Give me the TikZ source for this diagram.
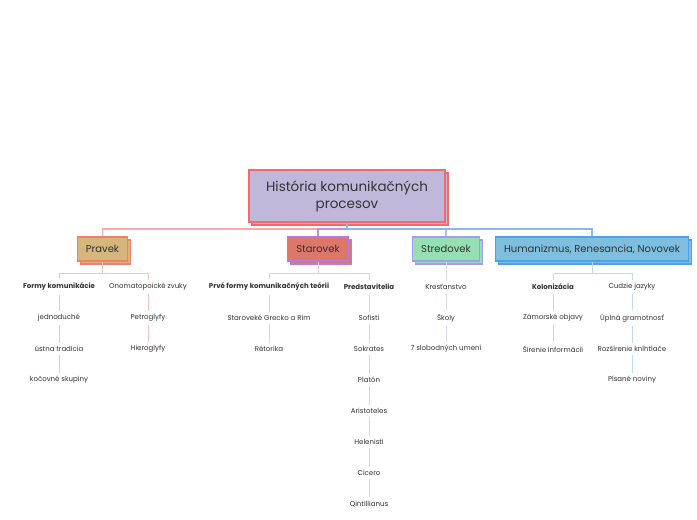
\documentclass[tikz,border=0pt]{standalone}
\usepackage{fontspec}
\setmainfont{Poppins}
\usetikzlibrary{shadows}
\definecolor{txt}{HTML}{333333}
\definecolor{rootfill}{HTML}{BFB8DA}
\definecolor{rootline}{HTML}{F26B6B}
\definecolor{pravekfill}{HTML}{D6B67B}
\definecolor{pravekline}{HTML}{F07F6B}
\definecolor{starovekfill}{HTML}{DC776A}
\definecolor{starovekline}{HTML}{B57BE3}
\definecolor{stredovekfill}{HTML}{95E0B2}
\definecolor{stredovekline}{HTML}{A49BF2}
\definecolor{humanizmusfill}{HTML}{7EBFDF}
\definecolor{humanizmusline}{HTML}{4FA0EB}
\definecolor{toPravek}{HTML}{F9A8A8}
\definecolor{toStarovek}{HTML}{C98CE6}
\definecolor{toStredovek}{HTML}{A7C4FA}
\definecolor{toHumanizmus}{HTML}{8AB6F6}
\definecolor{inPravek}{HTML}{F9C2C2}
\definecolor{inStarovek}{HTML}{E5CCF5}
\definecolor{inStredovek}{HTML}{DCD8FB}
\definecolor{inHumanizmus}{HTML}{BDDBF6}
\begin{document}
\begin{tikzpicture}[
  x=1pt, y=-1pt,
  box/.style={rectangle, draw, line width=1.2pt, text=txt, minimum height=24pt, inner xsep=8.5pt,
    font=\fontsize{10}{12}\selectfont, copy shadow={shadow xshift=3pt, shadow yshift=-3pt}},
  leaf/.style={text=txt, inner sep=3.5pt, font=\fontsize{7}{8}\selectfont},
  head/.style={leaf, font=\fontsize{7}{8}\selectfont\bfseries},
  main/.style={line width=1.3pt},
  sub/.style={line width=0.9pt}
]
\useasboundingbox[fill=white] (0,0) rectangle (697,520);
% root and periods
\node[box, fill=rootfill, draw=rootline, minimum width=196pt, minimum height=52pt,
  align=center, font=\fontsize{13.5}{17}\selectfont] (root) at (347,196) {História komunikačných\\procesov};
\node[box, fill=pravekfill, draw=pravekline] (pravek) at (102.5,249) {Pravek};
\node[box, fill=starovekfill, draw=starovekline] (starovek) at (318,249) {Starovek};
\node[box, fill=stredovekfill, draw=stredovekline] (stredovek) at (446,249) {Stredovek};
\node[box, fill=humanizmusfill, draw=humanizmusline] (humanizmus) at (592,249) {Humanizmus, Renesancia, Novovek};
\coordinate (hub) at (347,229);
\draw[main, toPravek] (root.south) -- (hub) -| (pravek.north);
\draw[main, toStarovek] (hub) -| (starovek.north);
\draw[main, toStredovek] (hub) -| (stredovek.north);
\draw[main, toHumanizmus] (root.south) -- (hub) -| (humanizmus.north);

% Pravek
\node[head] (pa0) at (59,287) {Formy komunikácie};
\node[leaf] (pb0) at (148,287) {Onomatopoické zvuky};
\coordinate (pravekhub) at (102.5,273);
\draw[sub, inPravek] (pravek.south) -- (pravekhub) -| (pa0.north);
\draw[sub, inPravek] (pravekhub) -| (pb0.north);
\foreach \t [count=\i, remember=\i as \j (initially 0)] in {jednoduché, ústna tradícia, kočovné skupiny}{
  \node[leaf] (pa\i) at (59,287+31*\i) {\t};
  \draw[sub, inPravek] (pa\j.south) -- (pa\i.north);
}
\foreach \t [count=\i, remember=\i as \j (initially 0)] in {Petroglyfy, Hieroglyfy}{
  \node[leaf] (pb\i) at (148,287+31*\i) {\t};
  \draw[sub, inPravek] (pb\j.south) -- (pb\i.north);
}

% Starovek
\node[head] (sa0) at (269,287) {Prvé formy komunikačných teórii};
\node[head] (sb0) at (369,287) {Predstavitelia};
\coordinate (starovekhub) at (318,273);
\draw[sub, inStarovek] (starovek.south) -- (starovekhub) -| (sa0.north);
\draw[sub, inStarovek] (starovekhub) -| (sb0.north);
\foreach \t [count=\i, remember=\i as \j (initially 0)] in {Staroveké Grecko a Rím, Rétorika}{
  \node[leaf] (sa\i) at (269,287+31*\i) {\t};
  \draw[sub, inStarovek] (sa\j.south) -- (sa\i.north);
}
\foreach \t [count=\i, remember=\i as \j (initially 0)] in {Sofisti, Sokrates, Platón, Aristoteles, Helenisti, Cicero, Qintillianus}{
  \node[leaf] (sb\i) at (369,287+31*\i) {\t};
  \draw[sub, inStarovek] (sb\j.south) -- (sb\i.north);
}

% Stredovek
\node[leaf] (ma0) at (446,287) {Kresťanstvo};
\draw[sub, inStredovek] (stredovek.south) -- (ma0.north);
\foreach \t [count=\i, remember=\i as \j (initially 0)] in {Školy, 7 slobodných umení}{
  \node[leaf] (ma\i) at (446,287+31*\i) {\t};
  \draw[sub, inStredovek] (ma\j.south) -- (ma\i.north);
}

% Humanizmus
\node[head] (ha0) at (553,287) {Kolonizácia};
\node[leaf] (hb0) at (632,287) {Cudzie jazyky};
\coordinate (humanizmushub) at (592,273);
\draw[sub, inHumanizmus] (humanizmus.south) -- (humanizmushub) -| (ha0.north);
\draw[sub, inHumanizmus] (humanizmushub) -| (hb0.north);
\foreach \t [count=\i, remember=\i as \j (initially 0)] in {Zámorské objavy, Šírenie informácií}{
  \node[leaf] (ha\i) at (553,287+31*\i) {\t};
  \draw[sub, inHumanizmus] (ha\j.south) -- (ha\i.north);
}
\foreach \t [count=\i, remember=\i as \j (initially 0)] in {Úplná gramotnosť, Rozšírenie kníhtlače, Písané noviny}{
  \node[leaf] (hb\i) at (632,287+31*\i) {\t};
  \draw[sub, inHumanizmus] (hb\j.south) -- (hb\i.north);
}
\end{tikzpicture}
\end{document}
